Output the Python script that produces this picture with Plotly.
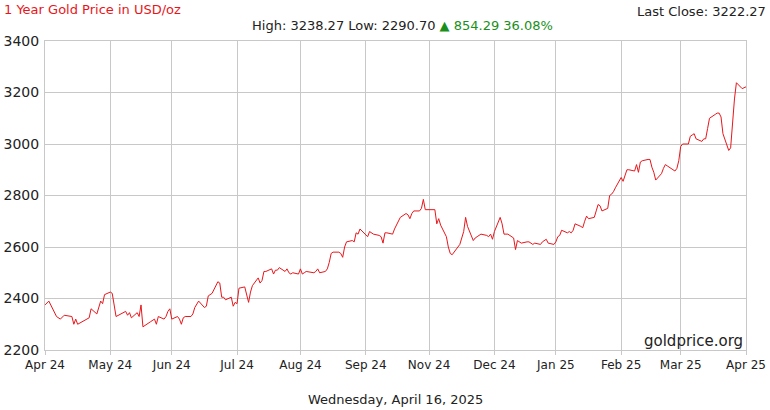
import plotly.graph_objects as go

# daily closes (approximate)
dates = [
    "2024-04-16", "2024-04-18", "2024-04-22", "2024-04-24", "2024-04-26", "2024-04-30",
    "2024-05-01", "2024-05-02", "2024-05-03", "2024-05-07", "2024-05-09", "2024-05-10",
    "2024-05-13", "2024-05-15", "2024-05-16", "2024-05-17", "2024-05-20", "2024-05-21",
    "2024-05-22", "2024-05-23", "2024-05-28", "2024-05-29", "2024-05-30", "2024-05-31",
    "2024-06-03", "2024-06-04", "2024-06-05", "2024-06-06", "2024-06-10", "2024-06-11",
    "2024-06-12", "2024-06-13", "2024-06-14", "2024-06-17", "2024-06-18", "2024-06-19",
    "2024-06-20", "2024-06-21", "2024-06-24", "2024-06-25", "2024-06-26", "2024-06-27",
    "2024-06-28", "2024-07-01", "2024-07-02", "2024-07-03", "2024-07-05", "2024-07-08",
    "2024-07-09", "2024-07-10", "2024-07-11", "2024-07-12", "2024-07-15", "2024-07-16",
    "2024-07-17", "2024-07-18", "2024-07-19", "2024-07-22", "2024-07-23", "2024-07-24",
    "2024-07-25", "2024-07-26", "2024-07-29", "2024-07-30", "2024-07-31", "2024-08-01",
    "2024-08-02", "2024-08-05", "2024-08-06", "2024-08-07", "2024-08-08", "2024-08-09",
    "2024-08-12", "2024-08-13", "2024-08-14", "2024-08-15", "2024-08-16", "2024-08-19",
    "2024-08-20", "2024-08-21", "2024-08-22", "2024-08-23", "2024-08-26", "2024-08-27",
    "2024-08-28", "2024-08-29", "2024-08-30",
    "2024-09-03", "2024-09-04", "2024-09-05", "2024-09-06", "2024-09-09", "2024-09-10",
    "2024-09-11", "2024-09-12", "2024-09-13", "2024-09-16", "2024-09-17", "2024-09-18",
    "2024-09-19", "2024-09-20", "2024-09-23", "2024-09-24", "2024-09-25", "2024-09-26",
    "2024-09-27", "2024-09-30", "2024-10-01", "2024-10-02", "2024-10-03", "2024-10-04",
    "2024-10-07", "2024-10-08", "2024-10-09", "2024-10-10", "2024-10-11", "2024-10-14",
    "2024-10-15", "2024-10-16", "2024-10-17", "2024-10-18", "2024-10-21", "2024-10-22",
    "2024-10-23", "2024-10-24", "2024-10-25", "2024-10-28", "2024-10-29", "2024-10-30",
    "2024-10-31", "2024-11-01", "2024-11-04", "2024-11-05", "2024-11-06", "2024-11-07",
    "2024-11-08", "2024-11-11", "2024-11-12", "2024-11-13", "2024-11-14", "2024-11-15",
    "2024-11-18", "2024-11-19", "2024-11-20", "2024-11-21", "2024-11-22", "2024-11-25",
    "2024-11-26", "2024-11-27", "2024-11-29", "2024-12-02", "2024-12-03", "2024-12-04",
    "2024-12-05", "2024-12-06", "2024-12-09", "2024-12-10", "2024-12-11", "2024-12-12",
    "2024-12-13", "2024-12-16", "2024-12-17", "2024-12-18", "2024-12-19", "2024-12-20",
    "2024-12-23", "2024-12-24", "2024-12-26", "2024-12-27", "2024-12-30", "2024-12-31",
    "2025-01-02", "2025-01-03", "2025-01-06", "2025-01-07", "2025-01-08", "2025-01-09",
    "2025-01-10", "2025-01-13", "2025-01-14", "2025-01-15", "2025-01-16", "2025-01-17",
    "2025-01-20", "2025-01-21", "2025-01-22", "2025-01-23", "2025-01-24", "2025-01-27",
    "2025-01-28", "2025-01-29", "2025-01-30", "2025-01-31", "2025-02-03", "2025-02-04",
    "2025-02-05", "2025-02-06", "2025-02-07", "2025-02-10", "2025-02-11", "2025-02-12",
    "2025-02-13", "2025-02-14", "2025-02-17", "2025-02-18", "2025-02-19", "2025-02-20",
    "2025-02-21", "2025-02-24", "2025-02-25", "2025-02-26", "2025-02-27", "2025-02-28",
    "2025-03-03", "2025-03-04", "2025-03-05", "2025-03-06", "2025-03-07", "2025-03-10",
    "2025-03-11", "2025-03-12", "2025-03-13", "2025-03-14", "2025-03-17", "2025-03-18",
    "2025-03-19", "2025-03-20", "2025-03-21", "2025-03-24", "2025-03-25", "2025-03-26",
    "2025-03-27", "2025-03-28", "2025-03-31", "2025-04-01", "2025-04-02", "2025-04-03",
    "2025-04-04", "2025-04-07", "2025-04-08", "2025-04-09", "2025-04-10", "2025-04-11",
    "2025-04-14", "2025-04-16",
]
prices = [
    2375, 2390, 2330, 2320, 2335, 2330,
    2300, 2320, 2300, 2315, 2325, 2360,
    2340, 2390, 2380, 2415, 2425, 2420,
    2380, 2330, 2350, 2335, 2345, 2325,
    2345, 2330, 2375, 2290, 2310, 2315,
    2320, 2300, 2330, 2320, 2330, 2350,
    2360, 2320, 2330, 2320, 2300, 2325,
    2330, 2330, 2340, 2365, 2390, 2365,
    2370, 2410, 2415, 2420, 2465, 2460,
    2405, 2405, 2395, 2405, 2370, 2385,
    2380, 2440, 2445, 2420, 2385, 2425,
    2450, 2480, 2460, 2470, 2505, 2505,
    2515, 2495, 2510, 2510, 2520, 2505,
    2515, 2500, 2495, 2500, 2495, 2515,
    2495, 2500, 2505,
    2500, 2505, 2515, 2500, 2505, 2515,
    2540, 2575, 2580, 2580, 2575, 2560,
    2600, 2620, 2625, 2620, 2655, 2650,
    2670, 2645, 2640, 2660, 2655, 2650,
    2645, 2640, 2615, 2655, 2655, 2650,
    2670, 2685, 2700, 2715, 2730, 2725,
    2710, 2730, 2740, 2740, 2750, 2785,
    2745, 2745, 2745, 2745, 2690, 2710,
    2685, 2640, 2600, 2575, 2570, 2580,
    2610, 2635, 2660, 2715, 2680, 2625,
    2635, 2640, 2650, 2645, 2640, 2650,
    2630, 2660, 2715, 2690, 2650, 2650,
    2650, 2635, 2590, 2625, 2620, 2615,
    2620, 2620, 2610, 2615, 2610, 2620,
    2630, 2615, 2610, 2620, 2640, 2645,
    2665, 2655, 2660, 2655, 2665, 2690,
    2680, 2675, 2700, 2720, 2710, 2715,
    2740, 2765, 2760, 2740, 2750, 2800,
    2805, 2815, 2830, 2870, 2855, 2880,
    2900, 2900, 2895, 2920, 2890, 2930,
    2935, 2940, 2940, 2910, 2890, 2860,
    2885, 2905, 2920, 2915, 2910, 2895,
    2905, 2935, 2990, 3000, 3000, 3030,
    3035, 3040, 3020, 3010, 3020, 3020,
    3060, 3100, 3115, 3120, 3120, 3105,
    3040, 2975, 2985, 3100, 3175, 3238,
    3215, 3222,
]

# the site's month labels are not on calendar month starts
tick_dates = ["2024-04-16", "2024-05-20", "2024-06-21", "2024-07-25", "2024-08-27",
              "2024-09-30", "2024-11-02", "2024-12-06", "2025-01-07", "2025-02-10",
              "2025-03-13", "2025-04-16"]
tick_labels = ["Apr 24", "May 24", "Jun 24", "Jul 24", "Aug 24", "Sep 24", "Nov 24",
               "Dec 24", "Jan 25", "Feb 25", "Mar 25", "Apr 25"]

font = "DejaVu Sans"

fig = go.Figure()
fig.add_trace(go.Scatter(x=dates, y=prices, mode="lines",
                         line=dict(color="#e8161b", width=1), hoverinfo="x+y"))

fig.update_layout(
    width=770, height=410,
    margin=dict(l=45, r=24, t=41, b=60),
    paper_bgcolor="white", plot_bgcolor="white",
    showlegend=False,
    font=dict(family=font, size=13, color="#222"),
    xaxis=dict(range=["2024-04-16", "2025-04-16"], tickvals=tick_dates, ticktext=tick_labels,
               automargin=False, showgrid=True, gridcolor="#c8c8c8", linecolor="#c8c8c8",
               mirror=True, ticks="outside", ticklen=4, tickcolor="#c8c8c8",
               tickfont=dict(size=12)),
    yaxis=dict(range=[2200, 3400], dtick=200, automargin=False, showgrid=True,
               gridcolor="#c8c8c8", linecolor="#c8c8c8", mirror=True, ticks="",
               tickfont=dict(size=14), ticklabelstandoff=2),
    annotations=[
        dict(text="1 Year Gold Price in USD/oz", x=0, y=1, xref="paper", yref="paper",
             xanchor="left", yanchor="top", showarrow=False,
             font=dict(color="#e8161b", size=13), xshift=-43, yshift=41),
        dict(text="Last Close: 3222.27", x=1, y=1, xref="paper", yref="paper",
             xanchor="right", yanchor="top", showarrow=False, font=dict(size=13),
             xshift=22, yshift=39),
        dict(text="High: 3238.27 Low: 2290.70 <span style='color:#1a8f1a'>▲ 854.29 36.08%</span>",
             x=0.51, y=1, xref="paper", yref="paper", xanchor="center", yanchor="bottom",
             showarrow=False, font=dict(size=13), yshift=6),
        dict(text="goldprice.org", x=1, y=0, xref="paper", yref="paper",
             xanchor="right", yanchor="bottom", showarrow=False, font=dict(size=15),
             xshift=-1, yshift=-2),
        dict(text="Wednesday, April 16, 2025", x=0.5, y=0, xref="paper", yref="paper",
             xanchor="center", yanchor="top", showarrow=False, font=dict(size=13),
             yshift=-40),
    ],
)

fig.write_html("out.html", config={"displayModeBar": False},
               post_script="document.body.style.margin='0';")
